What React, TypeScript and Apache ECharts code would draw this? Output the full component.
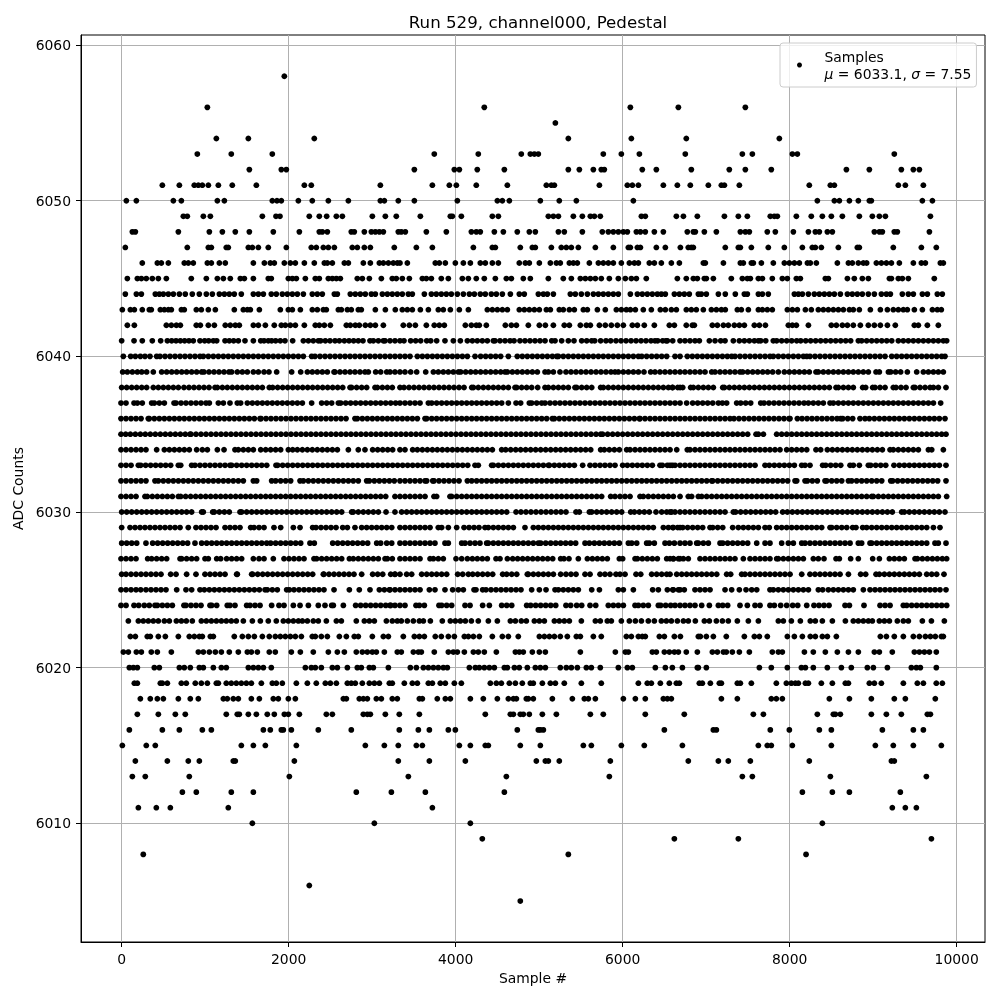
import React, { useEffect, useRef } from "react";
import * as echarts from "echarts";

const TITLE = "Run 529, channel000, Pedestal";
const X_NAME = "Sample #";
const Y_NAME = "ADC Counts";
const X_TICKS = [0, 2000, 4000, 6000, 8000, 10000];
const Y_TICKS = [6010, 6020, 6030, 6040, 6050, 6060];

// Sample numbers, one list per ADC level
const a6058 = [1960];
const a6056 = [1036, 4360, 6112, 6688, 7492];
const a6055 = [5212];
const a6054 = [1144, 1528, 2320, 5368, 6124, 6784, 7900];
const a6053 = [916, 1324, 1816, 3760, 4288, 4804, 4912, 4960, 5008, 5788, 6004, 6220, 6772, 7456, 7576, 8056, 8116, 9280];
const a6052 = [1540, 1924, 1984, 3520, 4000, 4060, 4276, 4600, 5368, 5500, 5668, 5764, 5800, 6256, 6424, 6844, 7300, 7492, 7804, 8704, 8980, 9364, 9508, 9580];
const a6051 = [496, 700, 880, 928, 976, 1048, 1168, 1336, 1624, 2200, 2284, 3112, 3736, 3940, 4024, 4264, 4636, 5104, 5164, 5200, 5740, 6076, 6136, 6208, 6508, 6676, 6832, 7048, 7204, 7240, 7420, 8260, 8512, 8560, 9328, 9412, 9628];
const a6050 = [64, 184, 628, 724, 1156, 1240, 1816, 1872, 1924, 2128, 2296, 2488, 2728, 3112, 3160, 3328, 3520, 4036, 4516, 4576, 4660, 5032, 5260, 5464, 6148, 8356, 8560, 8620, 8740, 8848, 8980, 9004, 9616, 9736];
const a6049 = [748, 796, 988, 1072, 1696, 1860, 1908, 2260, 2380, 2468, 2584, 2656, 3016, 3172, 3304, 3592, 3952, 3976, 4084, 4456, 4528, 5128, 5188, 5248, 5428, 5536, 5632, 5680, 5752, 6244, 6292, 6664, 6748, 6916, 7240, 7408, 7516, 7792, 7840, 7876, 8104, 8284, 8416, 8524, 8656, 8860, 9016, 9100, 9172, 9712];
const a6048 = [136, 172, 688, 1060, 1216, 1372, 1540, 1828, 2140, 2380, 2416, 2476, 2764, 2800, 2920, 3004, 3052, 3100, 3148, 3328, 3364, 3412, 3664, 3904, 4204, 4264, 4312, 4480, 4588, 4756, 4900, 4972, 5248, 5320, 5536, 5776, 5848, 5908, 5968, 6028, 6076, 6184, 6232, 6292, 6400, 6508, 6796, 6868, 6892, 7000, 7144, 7432, 7492, 7540, 7756, 7852, 8068, 8248, 8332, 8380, 8476, 8536, 9040, 9100, 9136, 9280, 9316, 9700];
const a6047 = [52, 796, 1048, 1084, 1264, 1288, 1528, 1576, 1648, 1768, 1984, 2284, 2344, 2428, 2488, 2560, 2776, 2836, 2920, 2992, 3280, 3544, 3736, 4228, 4456, 4492, 4792, 4936, 4972, 5164, 5284, 5344, 5404, 5488, 5692, 5908, 6088, 6112, 6196, 6232, 6424, 6532, 6712, 6808, 6844, 6868, 7252, 7408, 7432, 7564, 7768, 7960, 8176, 8296, 8332, 8404, 8608, 8836, 8860, 9268, 9604, 9784];
const a6046 = [256, 436, 484, 568, 760, 808, 868, 1036, 1084, 1180, 1252, 1588, 1720, 1792, 1840, 1960, 2032, 2092, 2200, 2320, 2440, 2476, 2536, 2680, 2728, 2908, 2992, 3100, 3148, 3208, 3268, 3316, 3348, 3436, 3772, 3820, 3892, 4012, 4108, 4192, 4312, 4372, 4456, 4528, 4780, 4852, 4900, 5020, 5152, 5224, 5272, 5380, 5428, 5476, 5620, 5728, 5788, 5848, 5908, 6004, 6100, 6160, 6208, 6340, 6400, 6484, 6604, 6700, 6988, 7012, 7228, 7432, 7468, 7564, 7588, 7684, 7828, 7960, 8020, 8080, 8140, 8236, 8272, 8344, 8596, 8728, 8776, 8848, 8908, 8948, 9064, 9124, 9184, 9244, 9340, 9508, 9604, 9652, 9832, 9868];
const a6045 = [76, 196, 244, 304, 376, 448, 544, 844, 1024, 1156, 1228, 1312, 1432, 1480, 1588, 1768, 1804, 2008, 2056, 2104, 2212, 2332, 2380, 2488, 2536, 2584, 2632, 2836, 2896, 2980, 3124, 3256, 3304, 3376, 3460, 3616, 3664, 3724, 3844, 3928, 4096, 4168, 4264, 4360, 4492, 4624, 4684, 4828, 4912, 5128, 5308, 5404, 5512, 5572, 5632, 5692, 5764, 5860, 5968, 6052, 6124, 6184, 6304, 6676, 6784, 6868, 6916, 7000, 7024, 7108, 7324, 7456, 7516, 7552, 7648, 7696, 7816, 7936, 7996, 8104, 8152, 8452, 8488, 8716, 8800, 8896, 8968, 9220, 9244, 9328, 9376, 9448, 9760];
const a6044 = [52, 184, 244, 412, 460, 508, 568, 628, 700, 772, 856, 940, 1024, 1096, 1180, 1240, 1300, 1360, 1444, 1588, 1648, 1708, 1804, 1864, 1936, 1996, 2056, 2116, 2188, 2296, 2356, 2416, 2560, 2596, 2752, 2812, 2872, 2932, 3004, 3052, 3136, 3196, 3256, 3316, 3376, 3448, 3496, 3640, 3724, 3784, 3844, 3904, 3964, 4036, 4108, 4180, 4240, 4312, 4372, 4444, 4504, 4576, 4672, 4780, 4840, 5008, 5068, 5116, 5188, 5392, 5452, 5524, 5596, 5668, 5728, 5788, 5848, 5908, 5968, 6112, 6196, 6256, 6316, 6376, 6436, 6484, 6532, 6640, 6700, 6760, 6820, 6928, 6964, 7024, 7168, 7252, 7372, 7480, 7516, 7648, 7696, 7768, 8080, 8128, 8176, 8248, 8320, 8380, 8440, 8500, 8560, 8632, 8716, 8776, 8836, 8896, 8968, 9040, 9124, 9184, 9232, 9376, 9448, 9508, 9616, 9676, 9796, 9856];
const a6043 = [16, 112, 160, 256, 340, 364, 472, 520, 568, 604, 724, 760, 904, 964, 1048, 1132, 1360, 1468, 1516, 1552, 1660, 1912, 2008, 2056, 2152, 2296, 2356, 2428, 2464, 2608, 2644, 2716, 2764, 2848, 2884, 3052, 3172, 3292, 3376, 3436, 3496, 3592, 3688, 3808, 3868, 3952, 4060, 4168, 4396, 4456, 4516, 4576, 4636, 4780, 4840, 4900, 4960, 5020, 5104, 5152, 5260, 5308, 5380, 5440, 5548, 5596, 5716, 5812, 5944, 6004, 6064, 6112, 6172, 6268, 6364, 6472, 6532, 6604, 6664, 6784, 6844, 6904, 6988, 7084, 7144, 7204, 7252, 7396, 7444, 7528, 7648, 7696, 7756, 7816, 7996, 8056, 8116, 8212, 8284, 8368, 8428, 8488, 8548, 8608, 8668, 8740, 8788, 8860, 8992, 9112, 9196, 9268, 9328, 9388, 9436, 9520, 9616, 9736, 9796, 9844];
const a6042 = [76, 160, 544, 604, 664, 712, 904, 952, 1048, 1120, 1252, 1312, 1372, 1420, 1588, 1648, 1732, 1840, 1924, 1972, 2032, 2092, 2200, 2332, 2380, 2440, 2512, 2704, 2752, 2812, 2860, 2932, 2992, 3052, 3148, 3388, 3460, 3532, 3664, 3760, 3820, 3880, 4132, 4204, 4264, 4300, 4384, 4612, 4684, 4744, 4888, 5020, 5092, 5188, 5320, 5380, 5512, 5584, 5632, 5740, 5812, 5884, 5956, 6028, 6136, 6196, 6280, 6400, 6580, 6640, 6784, 6856, 6880, 7096, 7156, 7228, 7288, 7360, 7420, 7480, 7600, 7660, 7732, 8008, 8056, 8104, 8248, 8524, 8584, 8656, 8716, 8788, 8872, 8968, 9040, 9112, 9196, 9292, 9520, 9568, 9676, 9808];
const a6041 = [8, 156, 256, 376, 476, 556, 608, 660, 712, 764, 816, 868, 948, 1004, 1052, 1108, 1148, 1248, 1300, 1352, 1408, 1488, 1588, 1676, 1716, 1768, 1808, 1856, 1912, 1968, 2060, 2188, 2248, 2308, 2368, 2396, 2452, 2508, 2568, 2620, 2680, 2736, 2792, 2848, 2904, 2988, 3028, 3088, 3148, 3168, 3228, 3288, 3348, 3396, 3476, 3536, 3596, 3668, 3716, 3788, 3888, 3988, 4072, 4156, 4216, 4276, 4336, 4396, 4468, 4488, 4548, 4608, 4668, 4716, 4788, 4848, 4908, 4968, 5028, 5088, 5168, 5208, 5288, 5368, 5436, 5528, 5588, 5648, 5684, 5756, 5820, 5876, 5940, 6000, 6060, 6120, 6180, 6240, 6300, 6360, 6408, 6440, 6500, 6540, 6556, 6620, 6708, 6768, 6828, 6888, 6940, 7060, 7128, 7196, 7248, 7348, 7420, 7480, 7540, 7600, 7648, 7676, 7736, 7828, 7868, 7928, 7988, 8048, 8108, 8156, 8216, 8276, 8336, 8396, 8456, 8516, 8576, 8636, 8696, 8756, 8848, 8888, 8948, 9008, 9068, 9128, 9188, 9248, 9328, 9388, 9448, 9508, 9568, 9628, 9688, 9748, 9808, 9868, 9908];
const a6040 = [28, 116, 172, 232, 288, 348, 428, 468, 528, 588, 648, 708, 768, 828, 888, 948, 988, 1048, 1108, 1168, 1228, 1288, 1348, 1408, 1468, 1528, 1588, 1648, 1708, 1768, 1828, 1888, 1948, 2008, 2068, 2128, 2188, 2288, 2328, 2388, 2448, 2508, 2568, 2628, 2688, 2748, 2808, 2868, 2928, 2988, 3048, 3108, 3168, 3228, 3288, 3348, 3408, 3468, 3556, 3616, 3676, 3736, 3796, 3856, 3916, 3976, 4036, 4096, 4156, 4248, 4316, 4376, 4436, 4496, 4556, 4648, 4756, 4816, 4876, 4936, 4996, 5056, 5116, 5176, 5228, 5248, 5308, 5368, 5428, 5488, 5548, 5608, 5668, 5728, 5788, 5848, 5908, 5968, 6028, 6088, 6148, 6208, 6248, 6308, 6368, 6428, 6488, 6548, 6648, 6708, 6796, 6856, 6916, 6976, 7036, 7096, 7156, 7216, 7276, 7328, 7368, 7428, 7488, 7548, 7608, 7668, 7728, 7788, 7828, 7888, 7948, 8008, 8068, 8128, 8188, 8228, 8268, 8328, 8388, 8448, 8508, 8568, 8628, 8688, 8748, 8808, 8868, 8928, 8988, 9048, 9108, 9168, 9248, 9308, 9368, 9428, 9488, 9548, 9608, 9668, 9728, 9788, 9848, 9888];
const a6039 = [20, 76, 136, 196, 248, 308, 388, 488, 548, 608, 668, 728, 788, 848, 908, 968, 996, 1056, 1116, 1176, 1236, 1296, 1328, 1396, 1456, 1516, 1588, 1648, 1716, 1776, 1868, 2048, 2156, 2236, 2296, 2356, 2416, 2476, 2556, 2568, 2628, 2688, 2748, 2808, 2868, 2928, 2968, 3056, 3116, 3188, 3228, 3288, 3348, 3408, 3476, 3548, 3656, 3748, 3808, 3868, 3928, 3988, 4048, 4076, 4136, 4196, 4256, 4316, 4376, 4436, 4496, 4556, 4608, 4636, 4696, 4756, 4816, 4876, 4936, 4996, 5088, 5128, 5188, 5268, 5340, 5400, 5460, 5520, 5580, 5640, 5700, 5760, 5820, 5880, 5928, 5968, 6028, 6088, 6148, 6208, 6276, 6356, 6408, 6468, 6528, 6588, 6648, 6708, 6768, 6828, 6888, 6948, 7008, 7088, 7128, 7188, 7248, 7308, 7368, 7428, 7460, 7520, 7580, 7640, 7700, 7760, 7820, 7888, 7960, 8020, 8080, 8140, 8200, 8260, 8340, 8368, 8428, 8488, 8548, 8608, 8668, 8728, 8788, 8848, 8908, 8968, 9060, 9100, 9208, 9236, 9296, 9356, 9436, 9548, 9628, 9688, 9748, 9808, 9868];
const a6038 = [8, 68, 128, 188, 248, 308, 388, 448, 508, 568, 628, 688, 756, 816, 876, 936, 996, 1056, 1128, 1156, 1216, 1276, 1336, 1396, 1456, 1516, 1576, 1636, 1696, 1780, 1820, 1880, 1940, 2000, 2060, 2120, 2180, 2240, 2300, 2360, 2420, 2480, 2540, 2600, 2660, 2748, 2768, 2828, 2888, 2948, 3048, 3076, 3136, 3196, 3256, 3348, 3396, 3456, 3516, 3576, 3636, 3696, 3756, 3816, 3876, 3936, 3996, 4056, 4116, 4208, 4228, 4288, 4348, 4408, 4468, 4528, 4588, 4648, 4728, 4748, 4808, 4868, 4928, 5000, 5088, 5128, 5188, 5248, 5308, 5368, 5448, 5468, 5528, 5588, 5648, 5756, 5788, 5848, 5908, 5968, 6028, 6088, 6148, 6208, 6268, 6328, 6388, 6448, 6508, 6568, 6616, 6708, 6620, 6680, 6740, 6836, 6868, 6928, 6988, 7048, 7108, 7220, 7240, 7300, 7360, 7420, 7480, 7540, 7600, 7660, 7720, 7780, 7840, 7900, 7960, 8020, 8080, 8140, 8200, 8260, 8320, 8380, 8440, 8500, 8580, 8608, 8668, 8728, 8788, 8900, 8936, 9020, 9048, 9108, 9168, 9268, 9300, 9360, 9420, 9508, 9528, 9588, 9648, 9708, 9748, 9808, 9900];
const a6037 = [0, 60, 156, 196, 256, 368, 400, 460, 520, 636, 660, 720, 780, 840, 900, 960, 1020, 1060, 1168, 1228, 1308, 1396, 1436, 1516, 1576, 1636, 1696, 1756, 1816, 1876, 1936, 1996, 2056, 2116, 2176, 2288, 2408, 2468, 2528, 2608, 2636, 2696, 2756, 2816, 2876, 2936, 2996, 3056, 3116, 3176, 3236, 3296, 3348, 3408, 3468, 3528, 3588, 3688, 3728, 3788, 3848, 3908, 3968, 4028, 4088, 4148, 4208, 4268, 4328, 4388, 4448, 4508, 4568, 4648, 4740, 4796, 4900, 4928, 4988, 5048, 5088, 5148, 5208, 5268, 5328, 5388, 5448, 5508, 5568, 5628, 5688, 5748, 5808, 5868, 5928, 5988, 6048, 6108, 6168, 6228, 6288, 6348, 6408, 6468, 6528, 6588, 6648, 6708, 6788, 6860, 6920, 6980, 7040, 7100, 7168, 7216, 7268, 7388, 7436, 7496, 7556, 7676, 7716, 7776, 7836, 7896, 7956, 8016, 8076, 8136, 8196, 8248, 8308, 8368, 8428, 8508, 8548, 8608, 8668, 8728, 8788, 8848, 8908, 8968, 9028, 9088, 9148, 9208, 9268, 9328, 9388, 9448, 9508, 9568, 9628, 9688, 9748, 9836];
const a6036 = [0, 60, 120, 180, 240, 328, 340, 400, 460, 520, 580, 640, 700, 760, 820, 880, 940, 1000, 1060, 1120, 1180, 1240, 1300, 1360, 1420, 1480, 1540, 1600, 1668, 1680, 1740, 1800, 1860, 1920, 1980, 2040, 2100, 2160, 2220, 2280, 2340, 2400, 2460, 2520, 2580, 2640, 2700, 2808, 2836, 2896, 2956, 3016, 3076, 3136, 3196, 3256, 3316, 3376, 3436, 3496, 3556, 3648, 3668, 3728, 3788, 3848, 3908, 3968, 4028, 4088, 4148, 4208, 4268, 4328, 4388, 4448, 4508, 4568, 4628, 4688, 4748, 4808, 4868, 4928, 4988, 5048, 5108, 5176, 5200, 5260, 5320, 5380, 5440, 5500, 5560, 5620, 5680, 5740, 5800, 5860, 5920, 5980, 6040, 6100, 6160, 6220, 6228, 6288, 6348, 6408, 6468, 6528, 6588, 6648, 6708, 6768, 6828, 6888, 6948, 7008, 7068, 7128, 7188, 7248, 7308, 7356, 7416, 7476, 7536, 7596, 7656, 7716, 7776, 7836, 7896, 7956, 8016, 8028, 8116, 8172, 8232, 8292, 8352, 8412, 8472, 8532, 8592, 8636, 8660, 8720, 8780, 8868, 8928, 8980, 9040, 9100, 9160, 9220, 9280, 9340, 9400, 9460, 9520, 9580, 9640, 9700, 9760, 9820, 9888];
const a6035 = [0, 56, 112, 172, 232, 292, 352, 412, 472, 532, 592, 652, 712, 772, 828, 840, 900, 960, 1020, 1080, 1140, 1200, 1260, 1320, 1380, 1440, 1500, 1560, 1620, 1680, 1740, 1800, 1860, 1920, 1980, 2040, 2100, 2160, 2220, 2280, 2340, 2400, 2460, 2520, 2580, 2640, 2700, 2760, 2820, 2880, 2940, 3000, 3060, 3120, 3180, 3240, 3300, 3360, 3420, 3480, 3540, 3600, 3660, 3720, 3780, 3840, 3900, 3960, 4020, 4080, 4140, 4200, 4260, 4320, 4380, 4440, 4500, 4560, 4620, 4680, 4740, 4800, 4860, 4920, 4980, 5040, 5100, 5160, 5220, 5280, 5340, 5400, 5460, 5520, 5580, 5640, 5700, 5756, 5780, 5840, 5900, 5960, 6020, 6080, 6140, 6200, 6260, 6320, 6380, 6440, 6500, 6560, 6620, 6680, 6740, 6800, 6860, 6920, 6980, 7040, 7100, 7160, 7220, 7280, 7340, 7400, 7460, 7520, 7620, 7648, 7708, 7868, 7928, 7988, 8048, 8108, 8168, 8228, 8288, 8348, 8408, 8468, 8528, 8588, 8648, 8708, 8768, 8828, 8888, 8948, 9008, 9068, 9128, 9188, 9248, 9308, 9368, 9428, 9488, 9548, 9608, 9668, 9728, 9788, 9848, 9900];
const a6034 = [0, 60, 120, 180, 240, 300, 428, 520, 580, 640, 700, 760, 820, 908, 976, 1036, 1156, 1236, 1368, 1408, 1468, 1528, 1588, 1676, 1736, 1796, 1856, 1916, 2008, 2060, 2116, 2176, 2236, 2296, 2356, 2416, 2476, 2536, 2596, 2728, 2848, 2928, 3020, 3080, 3140, 3200, 3260, 3348, 3408, 3500, 3556, 3616, 3676, 3736, 3796, 3856, 3916, 3976, 4036, 4096, 4156, 4216, 4276, 4336, 4396, 4456, 4568, 4616, 4676, 4736, 4796, 4856, 4916, 4976, 5036, 5096, 5156, 5216, 5276, 5336, 5396, 5456, 5516, 5576, 5636, 5756, 5800, 5860, 5920, 5980, 6068, 6108, 6168, 6228, 6288, 6348, 6408, 6468, 6528, 6588, 6668, 6796, 6828, 6888, 6948, 7008, 7068, 7128, 7188, 7248, 7308, 7368, 7428, 7488, 7548, 7608, 7668, 7728, 7788, 7848, 7908, 7988, 8048, 8108, 8168, 8228, 8340, 8396, 8476, 8536, 8596, 8656, 8716, 8776, 8836, 8896, 8956, 9016, 9076, 9136, 9228, 9268, 9328, 9388, 9448, 9508, 9568, 9688, 9728, 9868];
const a6033 = [0, 60, 120, 208, 236, 296, 356, 416, 476, 536, 596, 688, 716, 848, 888, 948, 1008, 1068, 1128, 1188, 1248, 1308, 1328, 1388, 1448, 1508, 1568, 1628, 1688, 1748, 1860, 1880, 1940, 2000, 2060, 2120, 2180, 2240, 2300, 2360, 2420, 2480, 2540, 2600, 2660, 2720, 2780, 2840, 2900, 2960, 3020, 3080, 3140, 3200, 3260, 3320, 3380, 3440, 3500, 3560, 3620, 3680, 3740, 3800, 3860, 3920, 3980, 4040, 4100, 4160, 4248, 4288, 4448, 4468, 4528, 4588, 4648, 4708, 4768, 4828, 4888, 4948, 5008, 5068, 5128, 5140, 5200, 5260, 5320, 5380, 5440, 5540, 5628, 5688, 5748, 5808, 5868, 5928, 6020, 6076, 6136, 6196, 6256, 6316, 6376, 6468, 6496, 6556, 6616, 6708, 6588, 6648, 6768, 6828, 6888, 6948, 7008, 7068, 7128, 7188, 7248, 7308, 7368, 7428, 7488, 7548, 7608, 7728, 7780, 7840, 7900, 7960, 8020, 8080, 8168, 8208, 8268, 8420, 8456, 8516, 8576, 8636, 8748, 8788, 8860, 8968, 8996, 9056, 9116, 9176, 9276, 9340, 9400, 9460, 9520, 9580, 9640, 9700, 9760, 9820, 9900];
const a6032 = [0, 60, 120, 180, 240, 300, 408, 448, 508, 568, 628, 688, 748, 808, 868, 928, 988, 1048, 1108, 1168, 1228, 1288, 1348, 1408, 1468, 1588, 1628, 1808, 1856, 1916, 1976, 2036, 2148, 2188, 2248, 2308, 2368, 2428, 2488, 2548, 2608, 2668, 2728, 2788, 2848, 2948, 2980, 3040, 3100, 3160, 3220, 3280, 3348, 3408, 3468, 3528, 3588, 3648, 3668, 3740, 3756, 3816, 3876, 3936, 3996, 4056, 4156, 4208, 4268, 4328, 4388, 4448, 4508, 4568, 4628, 4688, 4748, 4808, 4868, 4928, 4988, 5048, 5108, 5168, 5228, 5288, 5348, 5408, 5468, 5528, 5588, 5648, 5708, 5768, 5828, 5888, 5948, 6008, 6068, 6128, 6188, 6248, 6308, 6368, 6428, 6488, 6548, 6608, 6668, 6728, 6788, 6848, 6908, 6968, 7028, 7088, 7100, 7160, 7220, 7280, 7340, 7400, 7460, 7520, 7580, 7640, 7700, 7760, 7820, 7880, 7940, 8000, 8088, 8108, 8208, 8236, 8296, 8356, 8448, 8468, 8528, 8588, 8648, 8728, 8768, 8828, 8888, 8948, 9008, 9068, 9128, 9236, 9260, 9320, 9380, 9440, 9500, 9560, 9620, 9680, 9740, 9800, 9900];
const a6031 = [0, 60, 120, 180, 288, 316, 376, 436, 496, 556, 616, 688, 716, 776, 836, 896, 956, 1016, 1076, 1136, 1196, 1256, 1316, 1376, 1436, 1496, 1556, 1616, 1676, 1736, 1796, 1856, 1916, 1976, 2036, 2096, 2156, 2216, 2276, 2336, 2396, 2456, 2516, 2576, 2636, 2696, 2756, 2816, 2876, 2936, 2996, 3056, 3116, 3176, 3288, 3348, 3408, 3468, 3528, 3588, 3648, 3756, 3788, 3948, 3968, 4028, 4088, 4148, 4208, 4268, 4328, 4388, 4448, 4508, 4568, 4628, 4688, 4748, 4808, 4868, 4928, 4988, 5048, 5108, 5168, 5228, 5288, 5348, 5408, 5468, 5528, 5588, 5648, 5708, 5768, 5876, 5928, 5988, 6048, 6108, 6228, 6268, 6328, 6388, 6448, 6508, 6568, 6628, 6708, 6808, 6848, 6928, 6968, 7028, 7088, 7148, 7208, 7268, 7328, 7388, 7448, 7508, 7568, 7628, 7688, 7748, 7808, 7868, 7928, 7988, 8048, 8108, 8168, 8228, 8288, 8348, 8408, 8468, 8528, 8588, 8648, 8708, 8768, 8828, 8888, 8948, 9008, 9028, 9088, 9148, 9208, 9268, 9328, 9388, 9448, 9508, 9568, 9628, 9688, 9748, 9808, 9908];
const a6030 = [8, 68, 128, 188, 248, 308, 368, 428, 488, 548, 608, 668, 728, 788, 848, 968, 988, 1100, 1120, 1180, 1240, 1300, 1428, 1448, 1508, 1568, 1628, 1688, 1748, 1808, 1868, 1928, 1988, 2048, 2108, 2168, 2228, 2288, 2348, 2408, 2468, 2528, 2588, 2648, 2768, 2788, 2848, 2908, 2968, 3028, 3088, 3180, 3288, 3368, 3428, 3488, 3548, 3608, 3668, 3728, 3788, 3848, 3908, 3968, 4028, 4088, 4148, 4208, 4268, 4328, 4388, 4448, 4508, 4568, 4628, 4740, 4800, 4860, 4920, 4980, 5040, 5100, 5160, 5220, 5280, 5340, 5460, 5500, 5620, 5648, 5708, 5768, 5828, 5888, 5948, 6008, 6116, 6160, 6220, 6280, 6340, 6420, 6488, 6548, 6608, 6708, 6588, 6648, 6768, 6828, 6888, 6948, 7008, 7068, 7128, 7188, 7248, 7348, 7376, 7436, 7496, 7556, 7616, 7676, 7736, 7796, 7856, 7940, 7996, 8056, 8116, 8176, 8236, 8296, 8356, 8416, 8476, 8536, 8596, 8656, 8716, 8776, 8836, 8896, 8956, 9016, 9076, 9136, 9196, 9256, 9368, 9400, 9460, 9520, 9580, 9640, 9700, 9760, 9820, 9888];
const a6029 = [8, 108, 168, 228, 288, 348, 408, 468, 528, 588, 648, 708, 808, 900, 960, 1020, 1080, 1140, 1248, 1308, 1368, 1428, 1556, 1596, 1656, 1716, 1836, 1916, 2068, 2148, 2300, 2340, 2400, 2460, 2520, 2580, 2660, 2716, 2808, 2888, 2948, 3008, 3068, 3128, 3188, 3248, 3348, 3408, 3468, 3528, 3588, 3648, 3708, 3808, 3848, 3928, 4028, 4116, 4176, 4236, 4296, 4368, 4408, 4468, 4528, 4588, 4648, 4708, 4848, 4948, 5008, 5068, 5128, 5188, 5248, 5308, 5368, 5428, 5488, 5548, 5608, 5668, 5728, 5788, 5848, 5908, 5968, 6028, 6088, 6148, 6208, 6268, 6328, 6388, 6508, 6568, 6628, 6708, 6620, 6680, 6740, 6800, 6860, 6920, 6980, 7068, 7100, 7160, 7220, 7340, 7408, 7468, 7528, 7588, 7648, 7728, 7780, 7868, 7928, 7988, 8048, 8108, 8168, 8228, 8288, 8348, 8408, 8508, 8528, 8588, 8648, 8708, 8780, 8820, 8900, 8948, 9008, 9068, 9128, 9188, 9248, 9308, 9368, 9428, 9488, 9548, 9608, 9668, 9748, 9828];
const a6028 = [8, 68, 128, 188, 300, 380, 440, 500, 560, 620, 680, 740, 800, 888, 968, 1028, 1088, 1148, 1208, 1268, 1328, 1388, 1448, 1508, 1568, 1628, 1688, 1748, 1796, 1856, 1916, 1976, 2036, 2096, 2156, 2268, 2320, 2540, 2600, 2660, 2720, 2780, 2840, 2900, 2960, 3068, 3116, 3188, 3248, 3348, 3408, 3468, 3528, 3588, 3648, 3708, 3768, 3888, 3928, 4088, 4128, 4188, 4248, 4308, 4388, 4408, 4468, 4528, 4588, 4648, 4708, 4768, 4828, 4888, 4948, 5008, 5036, 5096, 5156, 5216, 5276, 5336, 5396, 5456, 5568, 5620, 5680, 5740, 5800, 5860, 5920, 5980, 6088, 6128, 6188, 6308, 6340, 6400, 6528, 6580, 6640, 6708, 6768, 6828, 6908, 6928, 6988, 7048, 7188, 7220, 7280, 7340, 7400, 7460, 7520, 7628, 7728, 7788, 7928, 8008, 8068, 8168, 8208, 8268, 8328, 8388, 8448, 8508, 8568, 8628, 8688, 8748, 8848, 8888, 8988, 9008, 9068, 9128, 9188, 9248, 9308, 9368, 9428, 9488, 9548, 9608, 9668, 9768, 9808, 9900];
const a6027 = [0, 60, 120, 180, 320, 368, 428, 488, 548, 708, 728, 788, 848, 908, 1008, 1048, 1148, 1196, 1268, 1328, 1388, 1448, 1588, 1656, 1716, 1828, 1956, 2016, 2076, 2136, 2196, 2316, 2348, 2408, 2468, 2528, 2588, 2648, 2740, 2788, 2848, 2908, 2968, 3028, 3088, 3168, 3196, 3256, 3348, 3408, 3468, 3528, 3588, 3708, 3748, 3808, 3868, 4020, 4088, 4156, 4216, 4276, 4336, 4396, 4500, 4548, 4636, 4700, 4760, 4820, 4880, 4940, 5000, 5060, 5120, 5180, 5276, 5316, 5376, 5488, 5596, 5656, 5716, 5776, 5836, 5980, 6020, 6168, 6196, 6256, 6316, 6376, 6436, 6548, 6628, 6708, 6588, 6628, 6688, 6748, 6808, 6948, 7008, 7068, 7128, 7188, 7248, 7308, 7368, 7468, 7548, 7608, 7668, 7728, 7788, 7868, 7888, 7948, 8008, 8068, 8128, 8188, 8308, 8368, 8436, 8580, 8620, 8756, 8848, 9020, 9100, 9220, 9280, 9340, 9400, 9528, 9556, 9616, 9676, 9736, 9796, 9856, 9908];
const a6026 = [8, 60, 120, 180, 240, 300, 360, 420, 480, 596, 660, 788, 900, 1008, 1068, 1128, 1188, 1248, 1388, 1396, 1568, 1580, 1640, 1700, 1760, 1820, 1880, 1940, 2000, 2060, 2120, 2180, 2240, 2300, 2428, 2436, 2496, 2556, 2616, 2676, 2736, 2796, 2888, 3020, 3080, 3140, 3236, 3288, 3348, 3288, 3428, 3488, 3608, 3668, 3728, 3788, 3848, 3908, 4040, 4100, 4168, 4220, 4280, 4340, 4400, 4460, 4580, 4628, 4688, 4748, 4876, 4888, 4948, 5008, 5068, 5128, 5188, 5276, 5340, 5400, 5460, 5568, 5628, 5748, 5808, 5868, 5940, 5988, 6048, 6180, 6236, 6368, 6428, 6488, 6548, 6668, 6588, 6728, 6788, 6848, 6908, 6968, 7028, 7088, 7148, 7268, 7316, 7448, 7488, 7548, 7608, 7668, 7728, 7788, 7848, 7908, 7968, 8028, 8168, 8268, 8328, 8388, 8448, 8508, 8568, 8628, 8728, 8876, 8936, 9060, 9100, 9160, 9220, 9280, 9340, 9400, 9460, 9520, 9580, 9668, 9728, 9788, 9876];
const a6025 = [0, 60, 120, 180, 236, 300, 360, 420, 480, 540, 668, 780, 848, 948, 1000, 1060, 1120, 1180, 1240, 1300, 1360, 1420, 1480, 1540, 1600, 1660, 1728, 1756, 1816, 1876, 1988, 2020, 2076, 2136, 2196, 2256, 2316, 2376, 2436, 2556, 2740, 2860, 2988, 3100, 3160, 3220, 3348, 3228, 3288, 3408, 3468, 3528, 3588, 3700, 3768, 3888, 3980, 4048, 4108, 4236, 4260, 4340, 4380, 4440, 4500, 4560, 4620, 4680, 4740, 4800, 4928, 5020, 5100, 5208, 5248, 5308, 5368, 5428, 5488, 5648, 5740, 5968, 6028, 6148, 6380, 6448, 6556, 6628, 6708, 6620, 6688, 6760, 6888, 6948, 7008, 7068, 7248, 7328, 7420, 7500, 7568, 7628, 7788, 7828, 7888, 7948, 8008, 8068, 8128, 8188, 8248, 8368, 8420, 8488, 8548, 8608, 8668, 8728, 8788, 8908, 8988, 9048, 9108, 9168, 9228, 9288, 9348, 9408, 9468, 9528, 9588, 9648, 9708, 9768, 9828, 9900];
const a6024 = [0, 60, 156, 212, 280, 340, 408, 436, 496, 556, 616, 756, 780, 840, 900, 960, 1068, 1088, 1148, 1276, 1308, 1368, 1508, 1548, 1608, 1668, 1808, 1896, 1956, 2068, 2148, 2248, 2368, 2448, 2528, 2548, 2668, 2816, 2876, 2936, 2996, 3056, 3116, 3176, 3236, 3348, 3228, 3288, 3408, 3540, 3580, 3640, 3816, 3848, 3908, 3968, 4128, 4188, 4340, 4420, 4568, 4628, 4688, 4868, 4916, 4976, 5036, 5096, 5156, 5216, 5340, 5396, 5468, 5528, 5628, 5696, 5848, 5908, 5968, 6028, 6168, 6208, 6268, 6328, 6448, 6476, 6536, 6596, 6708, 6648, 6768, 6828, 6888, 6968, 7060, 7168, 7220, 7280, 7428, 7516, 7608, 7668, 7788, 7840, 7916, 7988, 8060, 8120, 8228, 8316, 8376, 8436, 8496, 8688, 8740, 8916, 9108, 9168, 9228, 9388, 9428, 9488, 9548, 9608, 9668, 9728, 9788, 9848, 9908];
const a6023 = [88, 208, 268, 328, 388, 448, 520, 580, 664, 724, 784, 856, 964, 1024, 1084, 1144, 1204, 1264, 1324, 1384, 1468, 1576, 1672, 1768, 1864, 1948, 2008, 2068, 2128, 2176, 2236, 2308, 2368, 2464, 2584, 2644, 2824, 2920, 2980, 3040, 3184, 3256, 3316, 3364, 3436, 3508, 3580, 3628, 3712, 3856, 3952, 4012, 4072, 4132, 4204, 4288, 4408, 4516, 4672, 4732, 4804, 4864, 4960, 5020, 5080, 5200, 5260, 5320, 5380, 5524, 5692, 5752, 5836, 5884, 6004, 6100, 6172, 6244, 6328, 6400, 6484, 6544, 6604, 6676, 6748, 6808, 6892, 7000, 7060, 7144, 7216, 7288, 7396, 7528, 7648, 7888, 7948, 8044, 8152, 8272, 8332, 8416, 8536, 8692, 8788, 8848, 8908, 8968, 9016, 9100, 9160, 9220, 9316, 9388, 9448, 9616, 9724, 9880];
const a6022 = [112, 172, 316, 352, 448, 532, 688, 820, 880, 940, 976, 1072, 1108, 1360, 1456, 1528, 1600, 1696, 1780, 1852, 1912, 1972, 2032, 2092, 2164, 2296, 2332, 2404, 2476, 2620, 2704, 2800, 2848, 3016, 3148, 3208, 3388, 3520, 3580, 3640, 3772, 3844, 3928, 4000, 4120, 4168, 4228, 4300, 4456, 4576, 4648, 4768, 5020, 5080, 5140, 5200, 5272, 5356, 5464, 5512, 5668, 5764, 6064, 6124, 6208, 6256, 6292, 6460, 6520, 6640, 6712, 6928, 6952, 7024, 7108, 7264, 7480, 7600, 7660, 7756, 7996, 8080, 8176, 8272, 8332, 8416, 8476, 8584, 9112, 9184, 9280, 9388, 9508, 9580, 9652, 9712, 9772, 9844, 9868];
const a6021 = [28, 88, 184, 244, 364, 436, 604, 928, 988, 1060, 1132, 1204, 1300, 1408, 1516, 1564, 1636, 1780, 1852, 2044, 2152, 2308, 2488, 2596, 2680, 2824, 2896, 2956, 3016, 3064, 3160, 3316, 3364, 3508, 3568, 3604, 3760, 3928, 3988, 4036, 4120, 4228, 4288, 4360, 4504, 4732, 4780, 4828, 4936, 5020, 5092, 5512, 5932, 6052, 6088, 6376, 6424, 6520, 6580, 6640, 6688, 6784, 6916, 7096, 7156, 7228, 7264, 7336, 7420, 7540, 7816, 7888, 7936, 8200, 8308, 8452, 8596, 8728, 8848, 9040, 9100, 9256, 9520, 9580, 9640, 9700, 9784];
const a6020 = [100, 148, 196, 400, 460, 700, 760, 832, 940, 988, 1108, 1204, 1264, 1528, 1588, 1648, 1708, 1804, 2212, 2284, 2332, 2404, 2536, 2596, 2716, 2836, 2884, 2980, 3028, 3208, 3472, 3544, 3628, 3688, 3748, 3808, 3868, 3916, 4180, 4252, 4300, 4360, 4420, 4480, 4600, 4636, 4720, 4780, 4876, 4972, 5032, 5092, 5272, 5344, 5404, 5476, 5584, 5644, 5752, 5968, 6076, 6136, 6412, 6532, 6616, 6736, 6916, 6928, 7024, 7660, 7804, 7996, 8164, 8212, 8308, 8476, 8644, 8764, 8956, 9028, 9196, 9484, 9544, 9592, 9784];
const a6019 = [160, 196, 472, 496, 556, 724, 784, 892, 964, 1036, 1144, 1168, 1264, 1324, 1384, 1444, 1504, 1564, 1684, 1816, 1864, 1936, 2104, 2236, 2344, 2452, 2512, 2584, 2716, 2764, 2812, 2896, 2980, 3040, 3100, 3220, 3256, 3400, 3496, 3556, 3688, 3736, 3832, 3892, 4000, 4084, 4432, 4504, 4564, 4660, 4732, 4816, 4912, 4948, 5056, 5152, 5212, 5320, 5524, 5764, 6208, 6316, 6364, 6472, 6580, 6664, 6700, 6940, 6976, 7072, 7180, 7204, 7396, 7432, 7564, 7864, 7984, 8044, 8092, 8128, 8212, 8248, 8404, 8536, 8692, 8728, 8980, 9040, 9124, 9388, 9556, 9628, 9784, 9856];
const a6018 = [232, 352, 436, 508, 688, 832, 928, 1228, 1276, 1348, 1408, 1564, 1660, 1828, 1888, 2008, 2092, 2668, 2704, 2860, 2908, 2956, 3064, 3124, 3256, 3316, 3580, 3616, 3796, 3892, 3952, 4192, 4348, 4516, 4648, 4708, 4744, 4864, 4888, 4948, 5176, 5416, 5560, 5608, 5692, 6028, 6172, 6292, 6508, 6556, 6604, 7204, 7396, 7804, 7864, 7936, 8500, 8740, 9004, 9280, 9412, 9772];
const a6017 = [196, 448, 652, 772, 1264, 1396, 1420, 1528, 1624, 1756, 1840, 1960, 2008, 2140, 2464, 2536, 2908, 2956, 2992, 3172, 3340, 3580, 4372, 4672, 4708, 4792, 4828, 4900, 5056, 5224, 5632, 5788, 6292, 6760, 7588, 7708, 8356, 8548, 8572, 8632, 9004, 9184, 9364, 9676, 9712];
const a6016 = [100, 496, 700, 976, 1084, 1708, 1792, 1924, 1948, 2044, 2368, 2764, 3340, 3568, 3700, 3928, 4012, 4756, 5008, 5032, 5068, 6520, 7108, 7144, 7792, 8020, 8380, 8524, 9136, 9508, 9628];
const a6015 = [16, 304, 412, 1444, 1588, 1732, 2104, 2932, 3160, 3328, 3544, 3616, 4060, 4192, 4372, 4408, 4792, 5032, 5548, 5644, 6004, 6280, 6736, 7648, 7756, 7804, 8056, 8524, 9052, 9268, 9508, 9844];
const a6014 = [172, 556, 808, 940, 1348, 1372, 2080, 3328, 3700, 4132, 4984, 5092, 5128, 5260, 5872, 6808, 7168, 7288, 7552, 8260, 9244, 9280];
const a6013 = [136, 292, 820, 2020, 3448, 4624, 5860, 7456, 7576, 8512, 9664];
const a6012 = [736, 904, 1324, 1588, 2824, 3244, 3652, 4600, 8176, 8536, 8740, 9352];
const a6011 = [208, 424, 592, 1288, 3736, 9256, 9412, 9544];
const a6010 = [1576, 3040, 4192, 8416];
const a6009 = [4336, 6640, 7408, 9724];
const a6008 = [268, 5368, 8220];
const a6006 = [2260];
const a6005 = [4792];

const LEVELS: [number, number[]][] = [
  [6058, a6058], [6056, a6056], [6055, a6055], [6054, a6054], [6053, a6053], [6052, a6052], [6051, a6051], [6050, a6050],
  [6049, a6049], [6048, a6048], [6047, a6047], [6046, a6046], [6045, a6045], [6044, a6044], [6043, a6043], [6042, a6042],
  [6041, a6041], [6040, a6040], [6039, a6039], [6038, a6038], [6037, a6037], [6036, a6036], [6035, a6035], [6034, a6034],
  [6033, a6033], [6032, a6032], [6031, a6031], [6030, a6030], [6029, a6029], [6028, a6028], [6027, a6027], [6026, a6026],
  [6025, a6025], [6024, a6024], [6023, a6023], [6022, a6022], [6021, a6021], [6020, a6020], [6019, a6019], [6018, a6018],
  [6017, a6017], [6016, a6016], [6015, a6015], [6014, a6014], [6013, a6013], [6012, a6012], [6011, a6011], [6010, a6010],
  [6009, a6009], [6008, a6008], [6006, a6006], [6005, a6005],
];

const FONT = "DejaVu Sans";
const plain = (v: number) => String(v);

export default function App() {
  const ref = useRef<HTMLDivElement>(null);
  useEffect(() => {
    const chart = echarts.init(ref.current!, null, { renderer: "svg" });
    const data: number[][] = [];
    LEVELS.forEach(([level, xs]) => xs.forEach((x) => data.push([Math.round(x * 0.998 - 8), level])));
    chart.setOption({
      animation: false,
      textStyle: { fontFamily: FONT },
      title: {
        text: TITLE,
        left: 533,
        top: 9,
        textAlign: "center",
        textStyle: { fontFamily: FONT, fontSize: 16.67, fontWeight: "normal", color: "#000" },
      },
      grid: { left: 81, right: 15, top: 35, bottom: 58, show: true, borderColor: "#000", borderWidth: 1, backgroundColor: "#fff" },
      xAxis: {
        type: "value",
        min: -487,
        max: 10339,
        splitNumber: 5,
        name: X_NAME,
        nameLocation: "middle",
        nameGap: 28,
        nameTextStyle: { fontFamily: FONT, fontSize: 13.9, color: "#000" },
        axisLine: { onZero: false, lineStyle: { color: "#000", width: 1 } },
        axisTick: { show: true, length: 5, customValues: X_TICKS, lineStyle: { color: "#000", width: 1 } },
        axisLabel: { customValues: X_TICKS, formatter: plain, margin: 10, color: "#000", fontFamily: FONT, fontSize: 13.9 },
        splitLine: { show: true, lineStyle: { color: "#b0b0b0", width: 1 } },
      },
      yAxis: {
        type: "value",
        min: 6002.37,
        max: 6060.65,
        splitNumber: 5,
        name: Y_NAME,
        nameLocation: "middle",
        nameRotate: 90,
        nameGap: 53,
        nameTextStyle: { fontFamily: FONT, fontSize: 13.9, color: "#000" },
        axisLine: { onZero: false, lineStyle: { color: "#000", width: 1 } },
        axisTick: { show: true, length: 5, customValues: Y_TICKS, lineStyle: { color: "#000", width: 1 } },
        axisLabel: { customValues: Y_TICKS, formatter: plain, margin: 10, color: "#000", fontFamily: FONT, fontSize: 13.9 },
        splitLine: { show: true, lineStyle: { color: "#b0b0b0", width: 1 } },
      },
      legend: {
        show: true,
        left: 780,
        top: 43,
        orient: "vertical",
        padding: [5, 5, 5, 17],
        icon: "circle",
        itemWidth: 40,
        itemHeight: 5,
        backgroundColor: "rgba(255,255,255,0.8)",
        borderColor: "#ccc",
        borderWidth: 1,
        borderRadius: 3,
        data: ["Samples"],
        formatter: () => "Samples\n{i|μ} = 6033.1, {i|σ} = 7.55",
        textStyle: {
          fontFamily: FONT,
          fontSize: 13.9,
          color: "#000",
          lineHeight: 17,
          rich: { i: { fontFamily: FONT, fontStyle: "italic", fontSize: 13.9, color: "#000", lineHeight: 17 } },
        },
      },
      series: [
        {
          name: "Samples",
          type: "scatter",
          symbol: "circle",
          symbolSize: 5.8,
          itemStyle: { color: "#000", opacity: 1 },
          data,
          large: false,
          silent: true,
        },
      ],
    });
    return () => chart.dispose();
  }, []);
  return <div ref={ref} style={{ position: "fixed", left: 0, top: 0, width: 1000, height: 1000 }} />;
}
